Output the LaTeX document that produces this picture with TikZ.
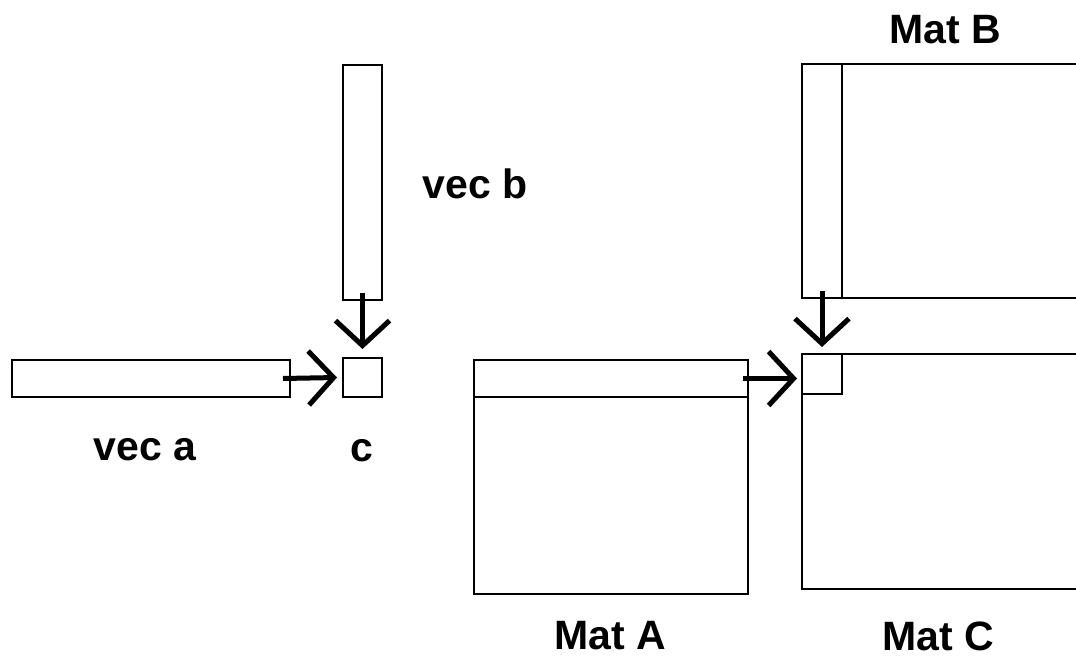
\documentclass[tikz,border=0pt]{standalone}
\usepackage{fontspec}
\setmainfont{Liberation Sans}
\usepackage{tikz}
\usetikzlibrary{arrows.meta}

\begin{document}
\begin{tikzpicture}[x=1pt, y=-1pt,
						vec_box/.style={rectangle, draw=black, line width=2pt, inner sep=0pt},
						mat_box/.style={rectangle, draw=black, line width=2pt, inner sep=0pt},
						tag_text/.style={font=\fontsize{41}{49}\selectfont\bfseries, inner sep=0pt},
						flow/.style={-{Straight Barb[length=25pt, width=54pt]}, line width=5pt}
						]
						
						% Page frame
						\useasboundingbox[fill=white] (0,0) rectangle (1076,660);
						\clip (0,0) rectangle (1076,660);
						
						% Vector product
						\node[vec_box, minimum width=39pt, minimum height=235pt] (vecb) at (362.5,182.5) {};
						\node[vec_box, minimum width=278pt, minimum height=37pt] (veca) at (151,378.5) {};
						\node[vec_box, minimum width=39pt, minimum height=39pt] (c) at (362.5,377.5) {};
						
						% Matrix product
						\node[mat_box, minimum width=274pt, minimum height=234pt] (matA) at (611,477) {};
						\node[mat_box, minimum width=274pt, minimum height=37pt] (rowA) at (611,378.5) {};
						\node[mat_box, minimum width=300pt, minimum height=234pt] (matB) at (952,181) {};
						\node[mat_box, minimum width=40pt, minimum height=234pt] (colB) at (822,181) {};
						\node[mat_box, minimum width=300pt, minimum height=235pt] (matC) at (952,471.5) {};
						\node[mat_box, minimum width=40pt, minimum height=40pt] (cellC) at (822,374) {};
						
						% Texts
						\node[tag_text] (tvecb) at (475,184) {vec b};
						\node[tag_text] (tveca) at (145,450) {vec a};
						\node[tag_text] (tc) at (362,451) {c};
						\node[tag_text] (tmatA) at (610,636) {Mat A};
						\node[tag_text] (tmatB) at (945,30) {Mat B};
						\node[tag_text] (tmatC) at (938,636) {Mat C};
						
						% Arrows
						\draw[flow] ([xshift=-8pt]veca.east) -- ([xshift=-5pt]c.west);
						\draw[flow] ([yshift=8pt]vecb.south) -- ([yshift=8pt]c.north);
						\draw[flow] ([xshift=-6pt]rowA.east) -- ([xshift=-4pt]cellC.west |- rowA.east);
						\draw[flow] ([yshift=8pt]colB.south) -- ([yshift=6pt]cellC.north);
						
					\end{tikzpicture}
\end{document}
